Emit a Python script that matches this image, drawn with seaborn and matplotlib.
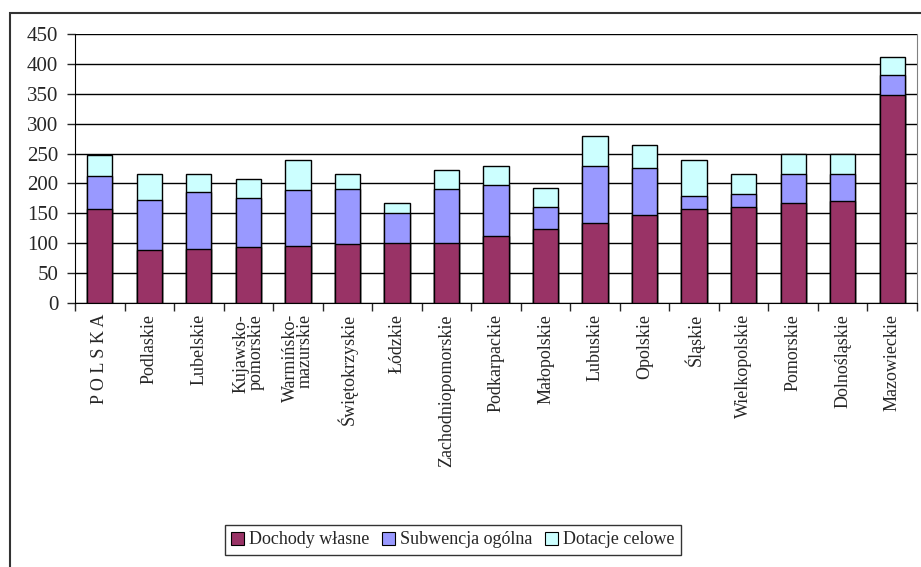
import numpy as np
import pandas as pd
import matplotlib.pyplot as plt
import seaborn as sns
from matplotlib.patches import Rectangle, Patch

# Dane
regions = ['P O L S K A', 'Podlaskie', 'Lubelskie', 'Kujawsko-\npomorskie',
           'Warmińsko-\nmazurskie', 'Świętokrzyskie', 'Łódzkie',
           'Zachodniopomorskie', 'Podkarpackie', 'Małopolskie', 'Lubuskie',
           'Opolskie', 'Śląskie', 'Wielkopolskie', 'Pomorskie', 'Dolnośląskie',
           'Mazowieckie']
dochody_wlasne = [158, 89, 91, 94, 96, 98, 100, 101, 112, 123, 133, 147, 157, 161, 167, 171, 348]
subwencja_ogolna = [55, 84, 95, 82, 93, 92, 50, 90, 85, 37, 97, 79, 22, 21, 48, 44, 34]
dotacje_celowe = [35, 43, 29, 31, 50, 25, 17, 31, 32, 32, 49, 38, 61, 34, 34, 34, 29]

series_names = ['Dochody własne', 'Subwencja ogólna', 'Dotacje celowe']
colors = ['#993366', '#9999FF', '#CCFFFF']

df = pd.DataFrame({'region': regions,
                   'd1': dochody_wlasne,
                   'd2': subwencja_ogolna,
                   'd3': dotacje_celowe})
df['c1'] = df['d1']
df['c2'] = df['d1'] + df['d2']
df['c3'] = df['c2'] + df['d3']

sns.set_style('white')
plt.rcParams['font.family'] = ['Liberation Serif', 'DejaVu Serif']

fig = plt.figure(figsize=(9.21, 5.67), dpi=100)
ax = fig.add_axes([75 / 921, 1 - 303 / 567, 842 / 921, 269 / 567])

# Słupki skumulowane: rysujemy sumy od największej
for col, c in zip(['c3', 'c2', 'c1'], colors[::-1]):
    sns.barplot(x='region', y=col, data=df, color=c, width=0.51, saturation=1,
                edgecolor='black', linewidth=1, ax=ax, zorder=3)

ax.set_ylim(0, 450)
ax.set_xlim(-0.5, len(regions) - 0.5)
ax.set_yticks(np.arange(0, 451, 50))
ax.yaxis.grid(True, color='black', linewidth=1, zorder=0)
ax.set_axisbelow(True)
ax.set_xlabel('')
ax.set_ylabel('')

for s in ['top', 'right']:
    ax.spines[s].set_color('#808080')
for s in ['left', 'bottom']:
    ax.spines[s].set_color('black')
ax.spines['top'].set_visible(False)

ax.tick_params(axis='y', direction='out', length=6, width=1, labelsize=15, pad=6, left=True)
ax.set_xticks(range(len(regions)))
ax.set_xticklabels(regions, rotation=90, va='top', ha='center', linespacing=0.85, multialignment='right')
ax.tick_params(axis='x', which='major', length=0, labelsize=13, pad=8)
ax.set_xticks(np.arange(-0.5, len(regions), 1), minor=True)
ax.tick_params(axis='x', which='minor', direction='out', length=6, width=1, bottom=True)

handles = [Patch(facecolor=c, edgecolor='black', linewidth=0.8) for c in colors]
leg = fig.legend(handles, series_names, loc='center', bbox_to_anchor=(453 / 921, 1 - 540 / 567),
                 ncol=3, fontsize=13, frameon=True, fancybox=False, handlelength=0.7,
                 handleheight=0.7, handletextpad=0.3, columnspacing=0.7, borderpad=0.35)
leg.get_frame().set_edgecolor('black')
leg.get_frame().set_linewidth(1)

# Ramka wokół całego wykresu
fig.patches.append(Rectangle((10 / 921, -0.05), 1.0, 1.05 - 13 / 567, transform=fig.transFigure,
                             fill=False, edgecolor='#333333', linewidth=1.5))

fig.savefig('out.png', dpi=100)
